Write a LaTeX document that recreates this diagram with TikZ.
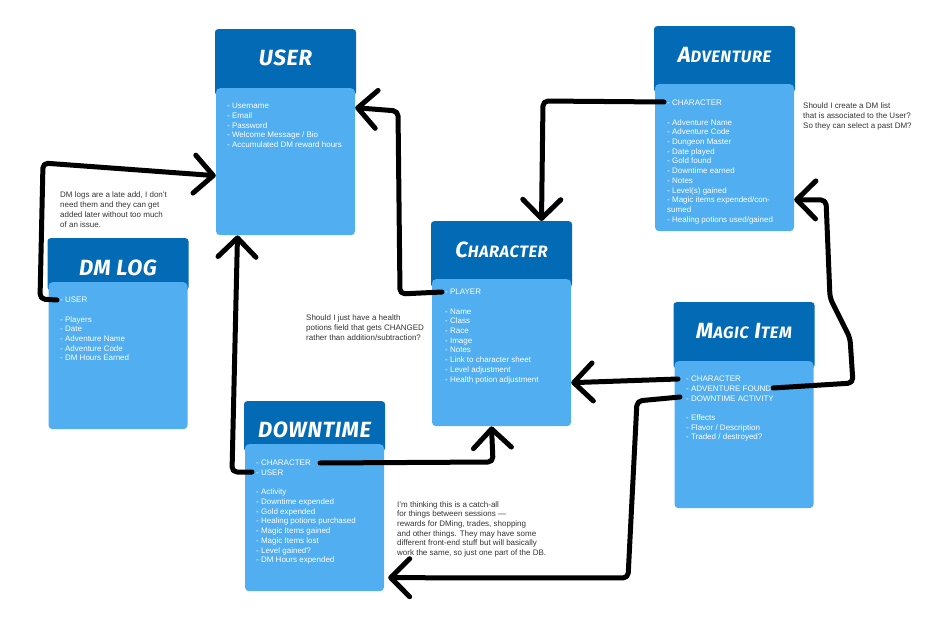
\documentclass[tikz,border=0pt]{standalone}
\usepackage{fontspec}
\setmainfont{Liberation Sans}
\newfontfamily\markerfont[LetterSpace=3]{Fira Sans}
\usetikzlibrary{arrows.meta}
\definecolor{headblue}{HTML}{036AB6}
\definecolor{bodyblue}{HTML}{51AEF0}
\definecolor{notegrey}{HTML}{333333}
\newcommand\bigsmall[2]{{\fontsize{22}{22}\selectfont #1}{\fontsize{16.5}{16.5}\selectfont #2}}
\begin{document}
\begin{tikzpicture}[x=1pt,y=-1pt,
  head/.style={fill=headblue,rounded corners=3pt,minimum width=141pt,minimum height=66pt,anchor=north,inner sep=0},
  body/.style={fill=bodyblue,rounded corners=4pt,minimum width=139pt,minimum height=147pt,anchor=north,inner sep=0},
  title/.style={text=white,font=\markerfont\bfseries\itshape\fontsize{22}{22}\selectfont,inner sep=0},
  items/.style={text=white,font=\fontsize{8}{9.7}\selectfont,align=left,anchor=north west,inner sep=0},
  note/.style={text=notegrey,font=\fontsize{8}{9.7}\selectfont,align=left,anchor=north west,inner sep=0},
  link/.style={line width=5pt,line cap=round,line join=round,rounded corners=5pt,-{Straight Barb[round,length=19pt,width=38pt]}}]
\useasboundingbox (0,0) rectangle (942,620);

% tables
\node[head] (userhead) at (285.5,29) {};
\node[body] (userbody) at (285.5,88) {};
\node[title] (usertitle) at (285.5,58) {USER};
\node[items] (useritems) at (227,103) {- Username\\- Email\\- Password\\- Welcome Message / Bio\\- Accumulated DM reward hours};

\node[head] (advhead) at (724.5,26) {};
\node[body] (advbody) at (724.5,84) {};
\node[title] (advtitle) at (724.5,55.5) {\bigsmall{A}{DVENTURE}};
\node[items] (advitems) at (667,100) {- CHARACTER\\[9.7pt]- Adventure Name\\- Adventure Code\\- Dungeon Master\\- Date played\\- Gold found\\- Downtime earned\\- Notes\\- Level(s) gained\\- Magic items expended/con-\\sumed\\- Healing potions used/gained};

\node[head,minimum height=52pt] (dmhead) at (118,238) {};
\node[body] (dmbody) at (118,282) {};
\node[title] (dmtitle) at (118,267.5) {DM LOG};
\node[items] (dmitems) at (60,297) {- USER\\[9.7pt]- Players\\- Date\\- Adventure Name\\- Adventure Code\\- DM Hours Earned};

\node[head] (charhead) at (501.5,221) {};
\node[body] (charbody) at (501.5,279) {};
\node[title] (chartitle) at (501.5,250) {\bigsmall{C}{HARACTER}};
\node[items] (charitems) at (445,289) {- PLAYER\\[9.7pt]- Name\\- Class\\- Race\\- Image\\- Notes\\- Link to character sheet\\- Level adjustment\\- Health potion adjustment};

\node[head] (magichead) at (744,302) {};
\node[body] (magicbody) at (744,361) {};
\node[title] (magictitle) at (744,331) {\bigsmall{M}{AGIC} \bigsmall{I}{TEM}};
\node[items] (magicitems) at (686,376) {- CHARACTER\\- ADVENTURE FOUND\\- DOWNTIME ACTIVITY\\[9.7pt]- Effects\\- Flavor / Description\\- Traded / destroyed?};

\node[head,minimum height=50pt] (downhead) at (314.5,401) {};
\node[body] (downbody) at (314.5,444) {};
\node[title] (downtitle) at (314.5,430) {DOWNTIME};
\node[items] (downitems) at (256,460) {- CHARACTER\\- USER\\[9.7pt]- Activity\\- Downtime expended\\- Gold expended\\- Healing potions purchased\\- Magic Items gained\\- Magic Items lost\\- Level gained?\\- DM Hours expended};

% notes
\node[note] (dmnote) at (60,192) {DM logs are a late add, I don’t\\need them and they can get\\added later without too much\\of an issue.};
\node[note] (advnote) at (803,103) {Should I create a DM list\\that is associated to the User?\\So they can select a past DM?};
\node[note] (potionnote) at (306,315) {Should I just have a health\\potions field that gets CHANGED\\rather than addition/subtraction?};
\node[note] (downnote) at (397,501) {I’m thinking this is a catch-all\\for things between sessions —\\rewards for DMing, trades, shopping\\and other things. They may have some\\different front-end stuff but will basically\\work the same, so just one part of the DB.};

% links
\coordinate (dmuserpt) at (57,300);
\coordinate (charplayerpt) at (442,292);
\coordinate (downuserpt) at (252,472);
\coordinate (advcharpt) at (664,102);
\coordinate (magicadvpt) at (773,388);
\coordinate (magiccharpt) at (678,379);
\coordinate (magicdownpt) at (680,397);
\coordinate (downcharpt) at (320,463);
\draw[link] (dmuserpt) -- (40,299) -- (43,163) -- ([yshift=-14pt]userbody.west);
\draw[link] (charplayerpt) -- (400,294) -- (398,111) -- ([yshift=54pt]userbody.east);
\draw[link] (downuserpt) -- (232,472) -- ([xshift=-48pt]userbody.south);
\draw[link] (advcharpt) -- (543,101) -- ([xshift=40pt]charhead.north);
\draw[link] (magicadvpt) -- (853,383) -- (850,338) -- (830,298) -- (826,200) -- ([yshift=-42pt]advbody.east);
\draw[link] (magiccharpt) -- ([yshift=-30pt]charbody.east);
\draw[link] (magicdownpt) -- (637,401) -- (628,578) -- ([shift={(4pt,-60pt)}]downbody.east);
\draw[link] (downcharpt) -- (493,462) -- ([xshift=-10pt]charbody.south);
\end{tikzpicture}
\end{document}
